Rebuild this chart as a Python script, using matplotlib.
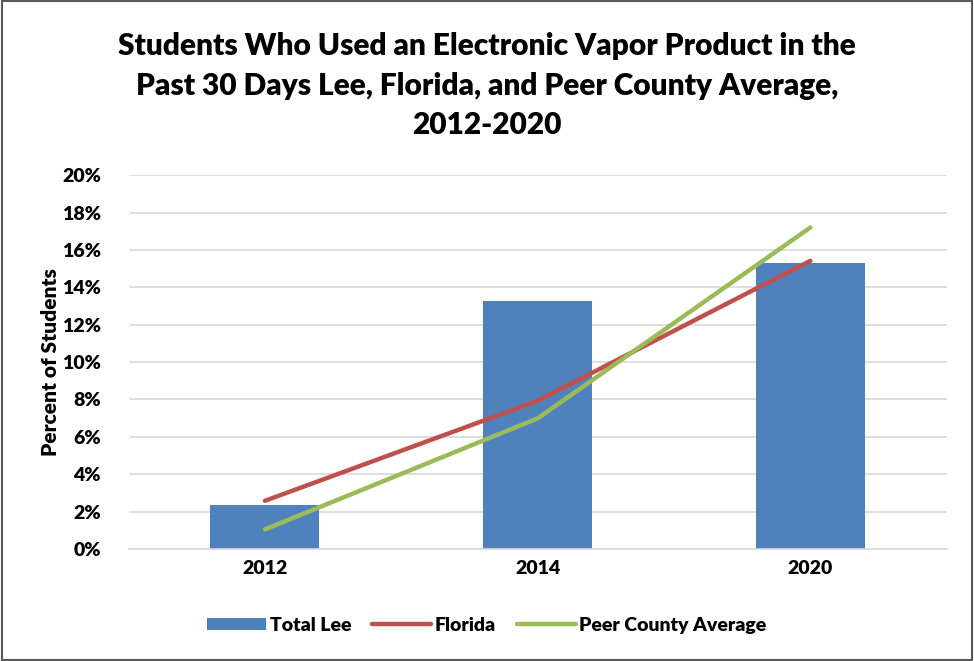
import numpy as np
import matplotlib.pyplot as plt
from matplotlib.patches import Rectangle

plt.rcParams['font.family'] = ['Lato', 'DejaVu Sans']
plt.rcParams['font.weight'] = 'heavy'

years = ["2012", "2014", "2020"]
total_lee = [2.35, 13.28, 15.28]
florida = [2.58, 7.93, 15.42]
peer_avg = [1.05, 6.99, 17.2]
yticks = [0, 2, 4, 6, 8, 10, 12, 14, 16, 18, 20]

fig = plt.figure(figsize=(9.74, 6.61), dpi=100)
ax = fig.add_axes([0.132, 0.1694, 0.84, 0.5656])

x = np.arange(len(years))
b = ax.bar(x, total_lee, width=0.4, color="#4F81BD", label="Total Lee", zorder=2)
l1, = ax.plot(x, florida, color="#C0504D", lw=3.2, solid_capstyle="round", label="Florida", zorder=3)
l2, = ax.plot(x, peer_avg, color="#9BBB59", lw=3.2, solid_capstyle="round", label="Peer County Average", zorder=3)

ax.set_xlim(-0.5, 2.5)
ax.set_ylim(0, 20)
ax.set_yticks(yticks)
ax.set_yticklabels([f"{v}%" for v in yticks], fontsize=14, fontweight="heavy")
ax.set_xticks(x)
ax.set_xticklabels(years, fontsize=14, fontweight="heavy")
ax.tick_params(axis="both", length=0, pad=8)
ax.tick_params(axis="y", pad=20)
ax.grid(axis="y", color="#D9D9D9", lw=1.2, zorder=0)
for s in ["top", "right", "left"]:
    ax.spines[s].set_visible(False)
ax.spines["bottom"].set_color("#D9D9D9")
ax.spines["bottom"].set_linewidth(1.2)

ax.set_ylabel("Percent of Students", fontsize=15, fontweight="heavy", labelpad=1)

fig.text(0.5, 0.87, "Students Who Used an Electronic Vapor Product in the\n"
         "Past 30 Days Lee, Florida, and Peer County Average,\n2012-2020",
         ha="center", va="center", fontsize=21.5, fontweight="heavy", linespacing=1.5)

leg = fig.legend([b, l1, l2], ["Total Lee", "Florida", "Peer County Average"],
                 loc="center", bbox_to_anchor=(0.5, 0.054), ncol=3, frameon=False,
                 prop={"size": 14, "weight": "heavy"}, handlelength=3.0,
                 handleheight=0.6, handletextpad=0.2, columnspacing=1.1)

fig.patches.append(Rectangle((0.002, 0.002), 0.996, 0.996, transform=fig.transFigure,
                             fill=False, edgecolor="#595959", lw=1.5))

fig.savefig("out.png", dpi=100)
